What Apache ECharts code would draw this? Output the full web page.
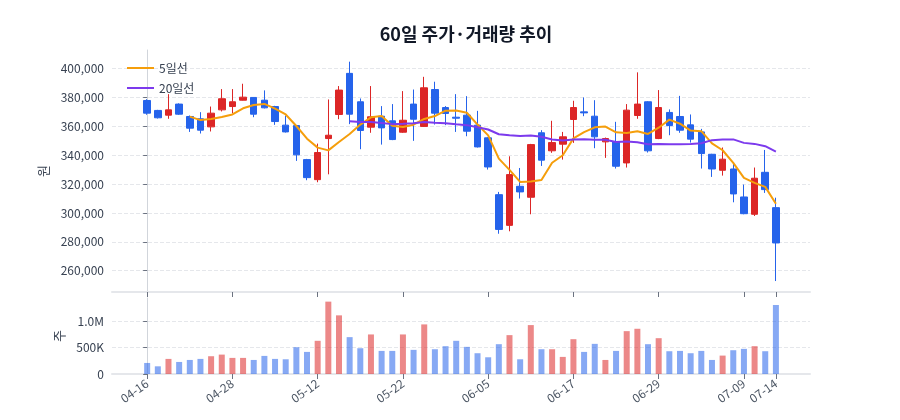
<!DOCTYPE html>
<html>
<head>
<meta charset="utf-8">
<script src="https://cdn.jsdelivr.net/npm/echarts@6/dist/echarts.min.js"></script>
<style>
  html, body { margin: 0; background: #fff; }
  #chart { width: 900px; height: 420px; }
</style>
</head>
<body>
<div id="chart"></div>
<script>
// 60 trading days
const dates = [
  '04-16','04-17','04-18','04-21','04-22','04-23','04-24','04-25','04-28','04-29',
  '04-30','05-01','05-02','05-07','05-08','05-09','05-12','05-13','05-14','05-15',
  '05-16','05-19','05-20','05-21','05-22','05-23','05-26','05-27','05-28','05-29',
  '05-30','06-02','06-05','06-06','06-09','06-10','06-11','06-12','06-13','06-16',
  '06-17','06-18','06-19','06-20','06-23','06-24','06-25','06-26','06-29','06-30',
  '07-01','07-02','07-03','07-04','07-07','07-08','07-09','07-10','07-11','07-14'
];
const openPrice = [
  378000, 371100, 367800, 375500, 366900, 365300, 359700, 371500, 373800, 378200,
  380100, 378200, 373800, 360900, 360600, 337000, 323100, 351600, 368300, 396800,
  377100, 359500, 367100, 363900, 356000, 375500, 360000, 385600, 373100, 366400,
  367800, 360900, 352100, 312700, 291400, 318500, 310900, 355600, 343100, 347700,
  364800, 370100, 367100, 349300, 349300, 334700, 367600, 377100, 351600, 369700,
  366900, 361100, 356200, 340700, 329600, 330500, 311100, 299100, 328200, 303700
];
const closePrice = [
  369200, 366000, 371500, 368500, 358800, 357400, 369200, 379200, 377100, 380300,
  368500, 372900, 363400, 356200, 340300, 324500, 341900, 353900, 385200, 368500,
  357200, 366700, 359000, 350900, 364300, 365000, 386800, 369200, 369000, 365700,
  356700, 345800, 331900, 288600, 326600, 314600, 347400, 336600, 348800, 352800,
  373100, 369400, 352800, 351600, 332400, 371300, 375500, 343100, 373100, 360600,
  357400, 351200, 341200, 330500, 337300, 313200, 299500, 324100, 316200, 279200
];
const lowPrice = [
  368100, 365500, 365300, 368000, 356200, 355100, 356500, 370400, 369200, 378000,
  366400, 372500, 361100, 355800, 336100, 322700, 321300, 326800, 365000, 361600,
  344200, 355600, 347400, 350500, 355600, 350000, 359600, 361300, 360900, 356200,
  353200, 345400, 330100, 285600, 287300, 310000, 299100, 332600, 341700, 337000,
  348600, 367100, 344900, 338200, 330800, 331500, 365300, 341900, 351200, 353900,
  355600, 348800, 330800, 325000, 325900, 307400, 299100, 297900, 313900, 252800
];
const highPrice = [
  378900, 371500, 382400, 376000, 367600, 369900, 373800, 385900, 385900, 389600,
  380100, 385000, 374300, 367400, 361000, 337500, 348100, 378700, 388000, 404900,
  379400, 388000, 374100, 375500, 384500, 385600, 394400, 391000, 374100, 382400,
  381000, 370800, 352500, 314600, 339300, 331200, 347900, 357400, 363900, 356200,
  377800, 380100, 378200, 352300, 363200, 375500, 397500, 377500, 385200, 371800,
  381200, 368300, 358300, 341000, 345400, 334300, 319700, 331500, 343700, 310600
];
const volume = [
  210000, 146000, 287000, 229000, 267000, 287000, 338000, 369000, 306000, 306000,
  267000, 344000, 287000, 280000, 510000, 420000, 631000, 1376000, 1115000, 701000,
  490000, 752000, 439000, 439000, 752000, 459000, 943000, 471000, 529000, 631000,
  516000, 395000, 318000, 567000, 739000, 280000, 930000, 471000, 471000, 325000,
  662000, 420000, 573000, 267000, 439000, 815000, 860000, 567000, 681000, 433000,
  439000, 395000, 439000, 267000, 350000, 452000, 478000, 529000, 433000, 1312000
];
const ma5 = [
  null, null, null, null, 366800, 364400, 365100, 366600, 368300, 372600,
  374900, 375600, 372400, 368300, 360300, 351500, 345300, 343400, 349200, 354800,
  361300, 366300, 367300, 360500, 359600, 361200, 365200, 367200, 370900, 371100,
  369500, 361300, 353800, 337700, 329900, 321500, 321800, 322800, 334800, 340000,
  351700, 356100, 359400, 359900, 355900, 355500, 356700, 354800, 359100, 364700,
  361900, 357100, 356700, 348200, 343500, 334700, 324300, 320900, 318100, 306400
];
const ma20 = [
  null, null, null, null, null, null, null, null, null, null,
  null, null, null, null, null, null, null, null, null, 363600,
  363000, 363100, 362400, 361600, 361800, 362200, 363100, 362600, 362200, 361500,
  360900, 359500, 357900, 354600, 353900, 353400, 353700, 352800, 351000, 350200,
  351000, 351100, 350800, 350800, 349200, 349600, 349000, 347700, 347900, 347600,
  347700, 347900, 348400, 350500, 351000, 351000, 348600, 347900, 346300, 342600
];
const priceTicks = [260000, 280000, 300000, 320000, 340000, 360000, 380000, 400000];
const volumeTicks = [0, 500000, 1000000];
const dateTicks = [0, 8, 16, 24, 32, 40, 48, 56, 59];

const UP = '#dc2626';
const DOWN = '#2563eb';
const FONT = '"Noto Sans CJK KR", "Noto Sans", sans-serif';

const chart = echarts.init(document.getElementById('chart'));

const candleData = dates.map((d, i) => [i, openPrice[i], closePrice[i], lowPrice[i], highPrice[i]]);
const toLine = arr => arr.map((v, i) => [i, v]).filter(p => p[1] != null);
const volumeData = volume.map((v, i) => ({
  value: [i, v],
  itemStyle: { color: closePrice[i] >= openPrice[i] ? 'rgba(220,38,38,0.55)' : 'rgba(37,99,235,0.55)' }
}));

const xBase = {
  type: 'value',
  min: -3.3,
  max: 62.2,
  axisLine: { show: true, lineStyle: { color: '#e5e7eb', width: 2 } },
  axisTick: { show: true, length: 5, customValues: dateTicks, lineStyle: { color: '#6b7280' } },
  splitLine: { show: false }
};

chart.setOption({
  animation: false,
  textStyle: { fontFamily: FONT },
  title: {
    text: '60일 주가·거래량 추이',
    left: 461,
    textAlign: 'center',
    top: 20,
    textStyle: { fontSize: 18, fontWeight: 'bold', color: '#111827', fontFamily: FONT }
  },
  legend: {
    orient: 'vertical',
    left: 122,
    top: 56,
    icon: 'rect',
    itemWidth: 27,
    itemHeight: 2,
    itemGap: 6,
    data: ['5일선', '20일선'],
    textStyle: { fontSize: 12, color: '#374151', lineHeight: 14 }
  },
  grid: [
    { left: 112, right: 90, top: 50, height: 242 },
    { left: 112, right: 90, top: 298, height: 76 }
  ],
  xAxis: [
    Object.assign({}, xBase, { gridIndex: 0, axisLabel: { show: false } }),
    Object.assign({}, xBase, {
      gridIndex: 1,
      axisLabel: {
        customValues: dateTicks,
        formatter: v => dates[v],
        rotate: 35,
        margin: 8,
        fontSize: 12,
        color: '#4b5563'
      }
    })
  ],
  yAxis: [
    {
      gridIndex: 0,
      type: 'value',
      min: 245200,
      max: 413000,
      name: '원',
      nameLocation: 'middle',
      nameGap: 62,
      nameTextStyle: { fontSize: 13, color: '#374151' },
      axisLine: { show: true, lineStyle: { color: '#d1d5db' } },
      axisTick: { show: true, length: 4, customValues: priceTicks, lineStyle: { color: '#6b7280' } },
      axisLabel: {
        customValues: priceTicks,
        formatter: v => v.toLocaleString('en-US'),
        fontSize: 12,
        color: '#374151'
      },
      splitLine: { show: true, lineStyle: { color: '#e5e7eb', type: 'dashed' } }
    },
    {
      gridIndex: 1,
      type: 'value',
      min: 0,
      max: 1445000,
      name: '주',
      nameLocation: 'middle',
      nameGap: 46,
      nameTextStyle: { fontSize: 13, color: '#374151' },
      axisLine: { show: true, lineStyle: { color: '#d1d5db' } },
      axisTick: { show: true, length: 4, customValues: volumeTicks, lineStyle: { color: '#6b7280' } },
      axisLabel: {
        customValues: volumeTicks,
        formatter: v => v >= 1000000 ? (v / 1000000).toFixed(1) + 'M' : v >= 1000 ? (v / 1000) + 'K' : String(v),
        fontSize: 12,
        color: '#374151'
      },
      splitLine: { show: true, lineStyle: { color: '#e5e7eb', type: 'dashed' } }
    }
  ],
  series: [
    {
      name: '주가',
      type: 'candlestick',
      xAxisIndex: 0,
      yAxisIndex: 0,
      barWidth: 7,
      data: candleData,
      itemStyle: { color: UP, color0: DOWN, borderColor: UP, borderColor0: DOWN, borderWidth: 1 }
    },
    {
      name: '5일선',
      type: 'line',
      xAxisIndex: 0,
      yAxisIndex: 0,
      data: toLine(ma5),
      symbol: 'none',
      lineStyle: { width: 2, color: '#f59e0b' },
      itemStyle: { color: '#f59e0b' }
    },
    {
      name: '20일선',
      type: 'line',
      xAxisIndex: 0,
      yAxisIndex: 0,
      data: toLine(ma20),
      symbol: 'none',
      lineStyle: { width: 2, color: '#7c3aed' },
      itemStyle: { color: '#7c3aed' }
    },
    {
      name: '거래량',
      type: 'bar',
      xAxisIndex: 1,
      yAxisIndex: 1,
      barWidth: 6,
      data: volumeData
    }
  ]
});
</script>
</body>
</html>
